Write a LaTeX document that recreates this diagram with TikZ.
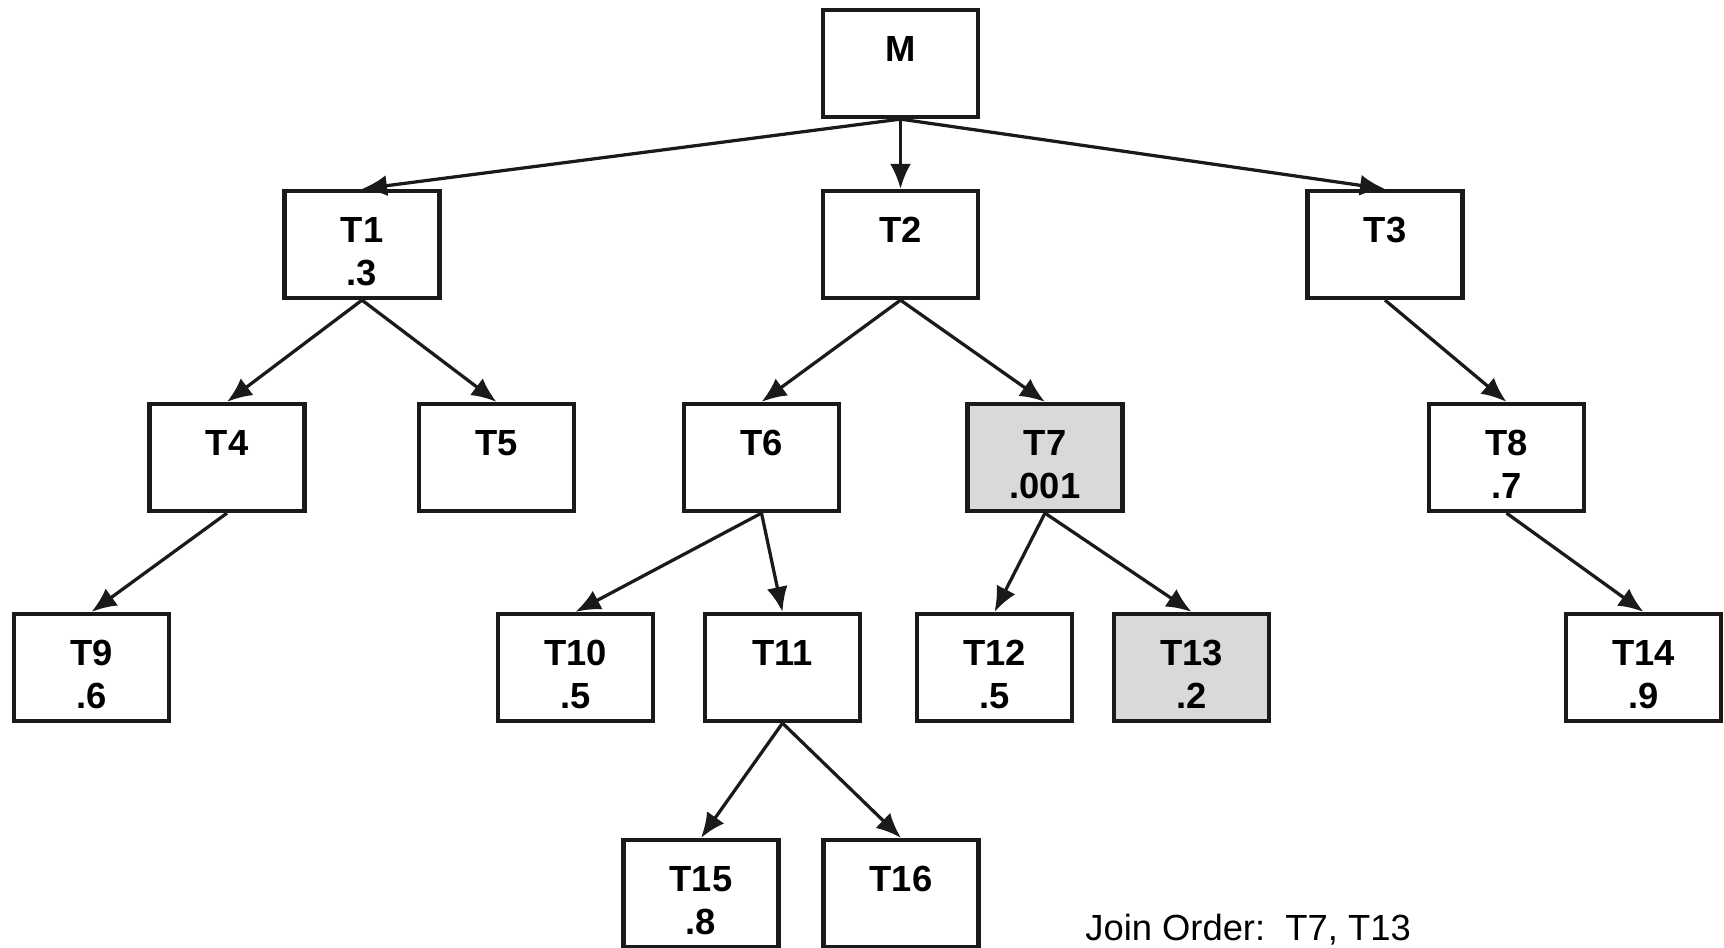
\documentclass[tikz,border=0pt]{standalone}
\usepackage{fontspec}
\setmainfont{Liberation Sans}
\usepackage{tikz}
\usetikzlibrary{arrows.meta,positioning}
\definecolor{inkline}{RGB}{26,26,26}
\definecolor{selgray}{RGB}{217,217,217}
\tikzset{%
	rel/.style    = {draw=inkline, line width=0.085cm, rectangle, inner sep=0pt, text width=3.1cm, text height=1.02cm, text depth=1.12cm, align=center, font=\fontsize{20.7}{24.5}\selectfont\bfseries},
	relsel/.style = {rel, fill=selgray},
	arrow/.style  = {draw=inkline, line width=0.065cm, -{Latex[length=0.5cm,width=0.42cm]}},
}
\begin{document}
\begin{tikzpicture}[x=0.02cm,y=-0.02cm]
	\useasboundingbox (0,0) rectangle (1724,947);
	% tables, row by row
	\node[rel] (M) at (900.5,63.5) {M};
	\node[rel] (T1) at (362,244.5) {T1\\.3};
	\node[rel] (T2) at (900.5,244.5) {T2};
	\node[rel] (T3) at (1385,244.5) {T3};
	\node[rel] (T4) at (227,457.5) {T4};
	\node[rel] (T5) at (496.5,457.5) {T5};
	\node[rel] (T6) at (761.5,457.5) {T6};
	\node[relsel] (T7) at (1045,457.5) {T7\\.001};
	\node[rel] (T8) at (1506.5,457.5) {T8\\.7};
	\node[rel] (T9) at (91.5,667.5) {T9\\.6};
	\node[rel] (T10) at (575.5,667.5) {T10\\.5};
	\node[rel] (T11) at (782.5,667.5) {T11};
	\node[rel] (T12) at (994.5,667.5) {T12\\.5};
	\node[relsel] (T13) at (1191.5,667.5) {T13\\.2};
	\node[rel] (T14) at (1643.5,667.5) {T14\\.9};
	\node[rel] (T15) at (701,893.5) {T15\\.8};
	\node[rel] (T16) at (901,893.5) {T16};
	% edges
	\foreach \p/\c in {M/T1,M/T2,M/T3,T1/T4,T1/T5,T2/T6,T2/T7,T3/T8,T4/T9,T6/T10,T6/T11,T7/T12,T7/T13,T8/T14,T11/T15,T11/T16}
		\draw[arrow] (\p.south) -- (\c.north);
	\node[anchor=base west, inner sep=0pt, font=\fontsize{20.7}{24.5}\selectfont] (order) at (1085,940) {Join Order:\ \ T7, T13};
\end{tikzpicture}
\end{document}
